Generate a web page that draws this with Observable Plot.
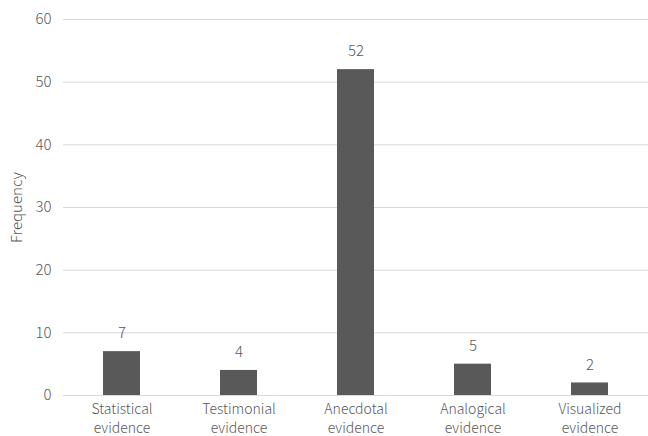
<!DOCTYPE html>
<html>
<head>
<meta charset="utf-8">
<script src="https://cdn.jsdelivr.net/npm/d3@7"></script>
<script src="https://cdn.jsdelivr.net/npm/@observablehq/plot@0.6"></script>
<style>
  html, body { margin: 0; padding: 0; background: #fff; }
  #chart svg { display: block; }
</style>
</head>
<body>
<div id="chart"></div>
<script>
const categories = ["Statistical\nevidence", "Testimonial\nevidence", "Anecdotal\nevidence", "Analogical\nevidence", "Visualized\nevidence"];
const frequencies = [7, 4, 52, 5, 2];
const yTicks = [0, 10, 20, 30, 40, 50, 60];

const data = categories.map((c, i) => ({category: c, value: frequencies[i]}));
const font = "'Noto Sans CJK SC', 'Open Sans', sans-serif";
const textColor = "#595959";

const chart = Plot.plot({
  width: 648,
  height: 436,
  marginTop: 19,
  marginBottom: 41,
  marginLeft: 63,
  marginRight: 0,
  style: {fontFamily: font, fontSize: "14px", color: textColor, background: "#fff"},
  x: {domain: categories, paddingInner: 0.685, paddingOuter: 0.3425, label: null},
  y: {domain: [0, 60], label: null},
  marks: [
    Plot.gridY(yTicks, {stroke: "#d9d9d9", strokeOpacity: 1, strokeWidth: 1}),
    Plot.barY(data, {x: "category", y: "value", fill: "#595959"}),
    Plot.text(data, {x: "category", y: "value", text: d => String(d.value), dy: -18, fill: textColor, fontSize: 15}),
    Plot.axisY(yTicks, {tickSize: 0, tickPadding: 12, fill: textColor, fontSize: 15,
      label: "Frequency", labelAnchor: "center", labelArrow: "none", labelOffset: 52}),
    Plot.axisX({tickSize: 0, tickPadding: 6, fill: textColor, fontSize: 14, lineHeight: 1.3, label: null})
  ]
});
chart.querySelectorAll("text").forEach(t => t.setAttribute("font-weight", "300"));
document.getElementById("chart").appendChild(chart);
</script>
</body>
</html>
